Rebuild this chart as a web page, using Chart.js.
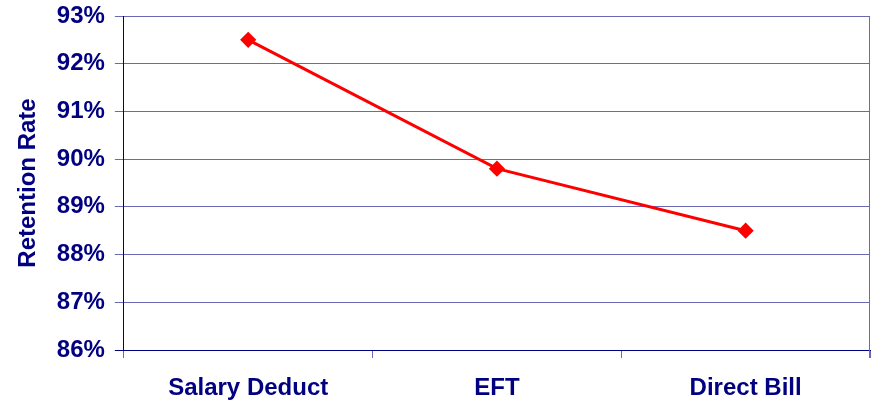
<!DOCTYPE html>
<html>
<head>
<meta charset="utf-8">
<script src="https://cdn.jsdelivr.net/npm/chart.js@4/dist/chart.umd.min.js"></script>
<style>
  html, body { margin: 0; padding: 0; background: #fff; }
  #wrap { width: 875px; height: 403px; }
</style>
</head>
<body>
<div id="wrap"><canvas id="myChart"></canvas></div>
<script>
const CATEGORIES = ['Salary Deduct', 'EFT', 'Direct Bill']
const RETENTION = [92.5, 89.8, 88.5]
const Y_MIN = 86
const Y_MAX = 93

const NAVY = '#000080'
const GRID = '#6a6ab4'

// right-hand border of the plot area
const rightBorder = {
  id: 'rightBorder',
  beforeDatasetsDraw(chart) {
    const { ctx, chartArea } = chart
    ctx.save()
    ctx.strokeStyle = GRID
    ctx.lineWidth = 1
    ctx.beginPath()
    ctx.moveTo(chartArea.right - 0.5, chartArea.top)
    ctx.lineTo(chartArea.right - 0.5, chartArea.bottom + 8)
    ctx.stroke()
    ctx.restore()
  }
}

Chart.defaults.font.family = 'Arial, "Liberation Sans", sans-serif'

new Chart(document.getElementById('myChart'), {
  type: 'line',
  data: {
    labels: CATEGORIES,
    datasets: [{
      data: RETENTION,
      borderColor: '#ff0000',
      backgroundColor: '#ff0000',
      borderWidth: 3,
      pointStyle: 'rectRot',
      pointRadius: 6,
      pointHoverRadius: 6,
      tension: 0
    }]
  },
  options: {
    responsive: true,
    maintainAspectRatio: false,
    animation: false,
    layout: { autoPadding: false, padding: { top: 0, right: 5, left: 14, bottom: 0 } },
    plugins: {
      legend: { display: false },
      tooltip: { enabled: false }
    },
    scales: {
      x: {
        offset: true,
        afterFit: (s) => { s.paddingLeft = 0; s.paddingRight = 0; s.height = 53 },
        grid: {
          offset: true,
          drawOnChartArea: false,
          color: GRID,
          tickLength: 8
        },
        border: { color: NAVY, width: 1 },
        ticks: {
          color: NAVY,
          padding: 16,
          font: { size: 24, weight: 'bold' }
        }
      },
      y: {
        min: Y_MIN,
        max: Y_MAX,
        afterFit: (s) => { s.paddingTop = 16; s.paddingBottom = 0 },
        grid: {
          color: (c) => c.index === 0 ? NAVY : GRID,
          tickLength: 9
        },
        border: { color: NAVY, width: 1 },
        ticks: {
          stepSize: 1,
          color: NAVY,
          padding: 10,
          font: { size: 24, weight: 'bold' },
          callback: (v) => v + '%'
        },
        title: {
          display: true,
          text: 'Retention Rate',
          color: NAVY,
          padding: { top: 0, bottom: 4 },
          font: { size: 24, weight: 'bold' }
        }
      }
    }
  },
  plugins: [rightBorder]
})
</script>
</body>
</html>
